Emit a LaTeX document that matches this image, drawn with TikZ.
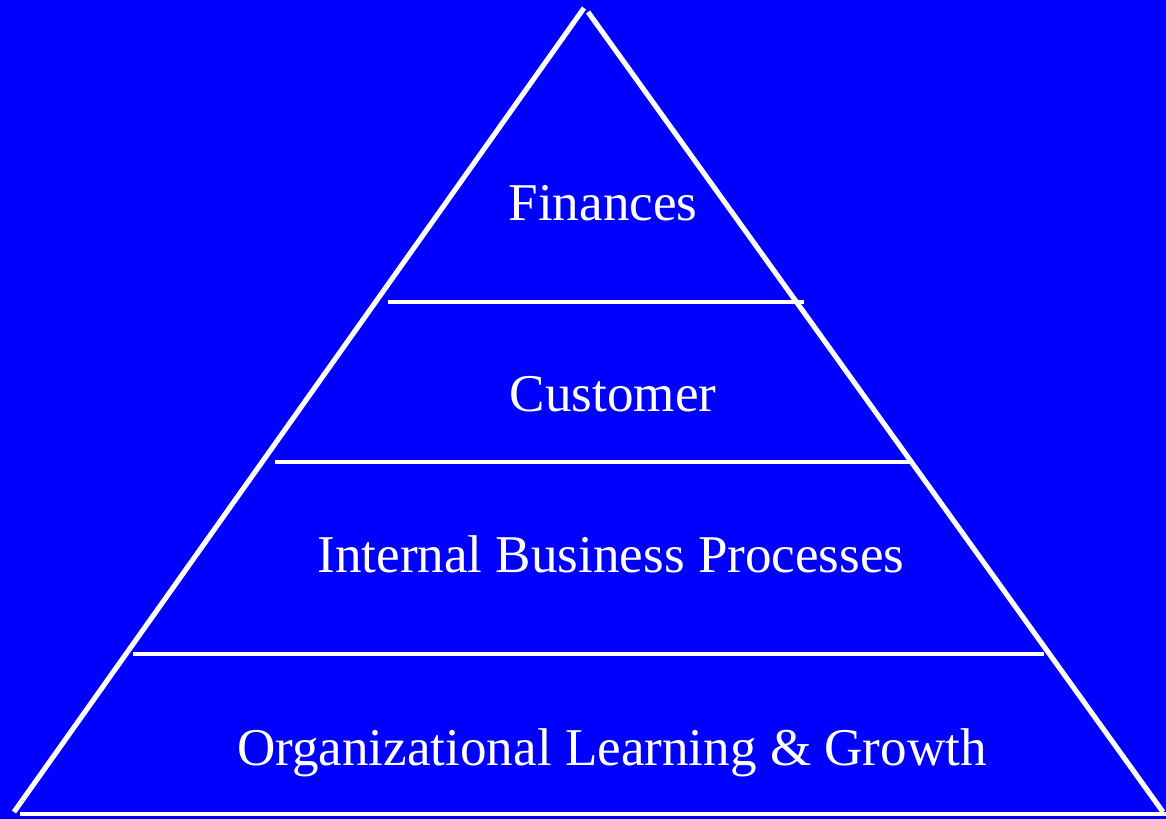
\documentclass[tikz,border=0pt]{standalone}
\usepackage{fontspec}
\setmainfont{Liberation Serif}
\usepackage{tikz}

\tikzset{
	level/.style={text=white,anchor=base,font=\fontsize{15.1}{18}\selectfont},
	side/.style={draw=white,line width=1.45pt},
	divider/.style={draw=white,line width=0.9pt}
}

\begin{document}
\begin{tikzpicture}[x=0.01cm,y=-0.01cm]
		\fill[fill={rgb,255:red,0;green,0;blue,255}] (0,0) rectangle (1166,819);
		\useasboundingbox (0,0) rectangle (1166,819);
		\coordinate (TopL) at (584,8);
		\coordinate (TopR) at (588,12);
		\coordinate (BotL) at (14,812);
		\coordinate (BotR) at (1163,812);
		\coordinate (BaseL) at (20,814);
		\coordinate (BaseR) at (1166,814);
		\coordinate (D1L) at (388,302);
		\coordinate (D1R) at (804,302);
		\coordinate (D2L) at (275,462);
		\coordinate (D2R) at (912,462);
		\coordinate (D3L) at (133,654);
		\coordinate (D3R) at (1044,654);
		\node[level] (Fin) at (603,221) {Finances};
		\node[level] (Cust) at (613,412) {Customer};
		\node[level] (IBP) at (611,573) {Internal Business Processes};
		\node[level] (OLG) at (612,766) {Organizational Learning \& Growth};
		\draw[side] (BotL) -- (TopL);
		\draw[side] (TopR) -- (BotR);
		\draw[draw=white,line width=1.15pt] (BaseL) -- (BaseR);
		\draw[divider] (D1L) -- (D1R);
		\draw[divider] (D2L) -- (D2R);
		\draw[divider] (D3L) -- (D3R);
	\end{tikzpicture}
\end{document}
